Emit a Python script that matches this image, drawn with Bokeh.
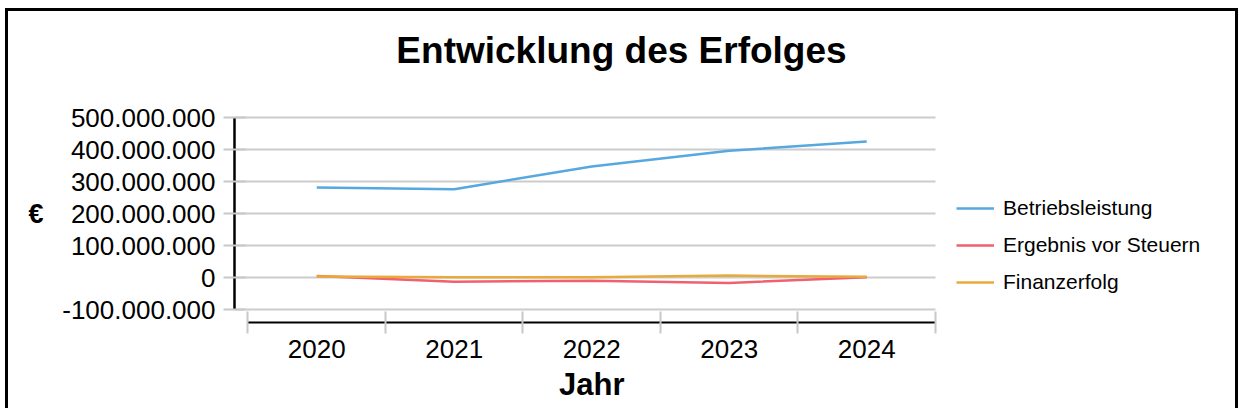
from bokeh.plotting import figure
from bokeh.models import (Range1d, LinearAxis, FixedTicker, Legend, LegendItem, Label)
from bokeh.embed import file_html
from bokeh.resources import INLINE

# ---- data ----
years = ["2020", "2021", "2022", "2023", "2024"]
betriebsleistung = [281e6, 276e6, 347e6, 396e6, 425e6]
ergebnis_vor_steuern = [5e6, -13e6, -10e6, -17e6, 0.5e6]
finanzerfolg = [3e6, 1e6, 0.5e6, 6e6, 2e6]
y_ticks = [-100000000, 0, 100000000, 200000000, 300000000, 400000000, 500000000]
y_tick_labels = ["-100.000.000", "0", "100.000.000", "200.000.000",
                 "300.000.000", "400.000.000", "500.000.000"]
series_names = ["Betriebsleistung", "Ergebnis vor Steuern", "Finanzerfolg"]
series_colors = ["#56A8DE", "#F0606E", "#E9AA3C"]
title_text = "Entwicklung des Erfolges"
x_title = "Jahr"
y_title = "€"

FONT = "Liberation Sans"
x_idx = list(range(len(years)))
n = len(years)
x_lo, x_hi = -0.5, n - 0.5          # category band limits
x_start, x_end = -0.598, 6.7255     # visible range (room for legend on the right)
y_start, y_end = -140.625e6, 831.25e6

p = figure(width=1233, height=400, output_backend="svg", toolbar_location=None,
           x_range=Range1d(x_start, x_end),
           y_range=Range1d(y_start, y_end),
           x_axis_type=None, y_axis_type=None,
           min_border_left=226, min_border_right=0,
           min_border_top=0, min_border_bottom=89)
p.outline_line_color = None
p.background_fill_color = "white"
p.border_fill_color = "white"
p.styles = {"border-left": "3px solid black", "border-top": "3px solid black",
            "border-right": "3px solid black", "margin": "8px 0px 0px 5px"}
p.xgrid.visible = False
p.ygrid.visible = False

# horizontal grid lines, limited to the category band
p.segment(x0=[x_start] * len(y_ticks), x1=[x_hi] * len(y_ticks), y0=y_ticks, y1=y_ticks,
          line_color="#cccccc", line_width=2)


def plain_axis(ax):
    ax.axis_line_color = None
    ax.major_tick_line_color = None
    ax.minor_tick_line_color = None
    ax.major_tick_in = 0
    ax.major_tick_out = 0
    ax.minor_tick_in = 0
    ax.minor_tick_out = 0


# y axis
yax = LinearAxis(ticker=FixedTicker(ticks=y_ticks, minor_ticks=[]),
                 bounds=(y_ticks[0], y_ticks[-1]))
yax.major_label_overrides = {v: s for v, s in zip(y_ticks, y_tick_labels)}
yax.major_label_text_font = FONT
yax.major_label_text_font_size = "26px"
yax.major_label_text_color = "black"
yax.major_label_standoff = 8
yax.axis_line_color = "black"
yax.axis_line_width = 2.5
yax.major_tick_in = 11
yax.major_tick_out = 11
yax.major_tick_line_color = "#c8c8c8"
yax.major_tick_line_width = 2
yax.minor_tick_line_color = None
p.add_layout(yax, "left")

# y axis title, centred on the axis bounds
y_mid = (y_ticks[0] + y_ticks[-1]) / 2
yax2 = LinearAxis(ticker=FixedTicker(ticks=[y_mid], minor_ticks=[]))
yax2.major_label_overrides = {y_mid: y_title}
plain_axis(yax2)
yax2.major_label_text_font = FONT
yax2.major_label_text_font_size = "27px"
yax2.major_label_text_font_style = "bold"
yax2.major_label_text_color = "black"
yax2.major_label_standoff = 16
p.add_layout(yax2, "left")

# x axis
xax = LinearAxis(ticker=FixedTicker(ticks=x_idx,
                                    minor_ticks=[i - 0.5 for i in range(n + 1)]),
                 bounds=(x_lo, x_hi))
xax.major_label_overrides = {i: y for i, y in zip(x_idx, years)}
xax.major_label_text_font = FONT
xax.major_label_text_font_size = "26px"
xax.major_label_text_color = "black"
xax.major_label_standoff = 6
xax.axis_line_color = "black"
xax.axis_line_width = 2
xax.major_tick_line_color = None
xax.major_tick_in = 0
xax.major_tick_out = 0
xax.minor_tick_in = 11
xax.minor_tick_out = 11
xax.minor_tick_line_color = "#c8c8c8"
xax.minor_tick_line_width = 2
p.add_layout(xax, "below")

# x axis title, centred on the category band
x_mid = (x_lo + x_hi) / 2
xax2 = LinearAxis(ticker=FixedTicker(ticks=[x_mid], minor_ticks=[]))
xax2.major_label_overrides = {x_mid: x_title}
plain_axis(xax2)
xax2.major_label_text_font = FONT
xax2.major_label_text_font_size = "31px"
xax2.major_label_text_font_style = "bold"
xax2.major_label_text_color = "black"
xax2.major_label_standoff = 6
p.add_layout(xax2, "below")

renderers = []
for vals, col in zip([betriebsleistung, ergebnis_vor_steuern, finanzerfolg], series_colors):
    r = p.line(x=x_idx, y=vals, line_color=col, line_width=2.5)
    renderers.append(r)

legend = Legend(items=[LegendItem(label=nm, renderers=[r]) for nm, r in zip(series_names, renderers)],
                location=(722, 28), orientation="vertical",
                glyph_width=38, glyph_height=24, label_height=24, label_standoff=9, spacing=13,
                padding=0, margin=0, border_line_color=None, background_fill_alpha=0,
                label_text_font=FONT, label_text_font_size="21px", label_text_color="black")
p.add_layout(legend, "center")

title = Label(x=387, y=272, x_units="screen", y_units="screen", text=title_text,
              text_align="center", text_baseline="alphabetic",
              text_font=FONT, text_font_size="37px", text_font_style="bold",
              text_color="black")
p.add_layout(title)

open("out.html", "w").write(file_html(p, INLINE))
